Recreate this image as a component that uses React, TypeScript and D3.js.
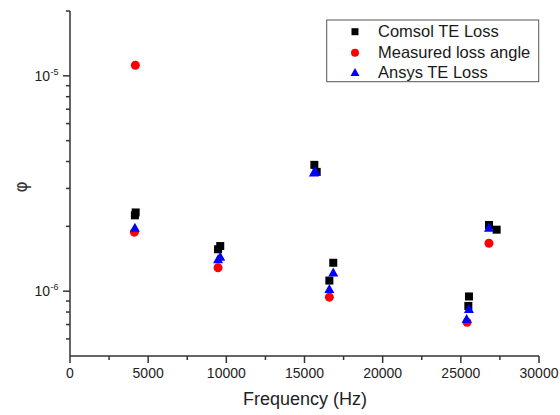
import React from "react";
import * as d3 from "d3";

const comsolF = [4150, 4200, 9470, 9610, 15630, 15780, 16590, 16840, 25480, 25520, 26800, 27290];
const comsolV = [2.25e-6, 2.32e-6, 1.565e-6, 1.62e-6, 3.86e-6, 3.58e-6, 1.12e-6, 1.355e-6, 8.54e-7, 9.45e-7, 2.03e-6, 1.93e-6];
const measuredF = [4180, 4120, 9470, 16590, 25400, 26800];
const measuredV = [1.12e-5, 1.88e-6, 1.285e-6, 9.38e-7, 7.17e-7, 1.67e-6];
const ansysF = [4150, 9470, 9610, 15600, 15700, 16590, 16840, 25370, 25520, 26800];
const ansysV = [1.96e-6, 1.40e-6, 1.44e-6, 3.54e-6, 3.57e-6, 1.02e-6, 1.217e-6, 7.4e-7, 8.24e-7, 1.96e-6];

const xTicks = [0, 5000, 10000, 15000, 20000, 25000, 30000];
const xMinor = [2500, 7500, 12500, 17500, 22500, 27500];
const yMajor = [1e-6, 1e-5];
const yMajorExp = ["-6", "-5"];
const yMinor = [6e-7, 7e-7, 8e-7, 9e-7, 2e-6, 3e-6, 4e-6, 5e-6, 6e-6, 7e-6, 8e-6, 9e-6, 2e-5];
const legendLabels = ["Comsol TE Loss", "Measured loss angle", "Ansys TE Loss"];

const W = 560, H = 415;
const FONT = "'Liberation Sans', Arial, sans-serif";

export default function App() {
  const x = d3.scaleLinear().domain([0, 30000]).range([70, 539]);
  const y = d3.scaleLog().domain([5e-7, 2e-5]).range([356, 11]);
  const axisColor = "#333";
  const sq = 8;
  const tri = (cx: number, cy: number, s = 10) => {
    const h = s * 0.9;
    return `M${cx},${cy - h * 0.6}L${cx + s / 2},${cy + h * 0.4}L${cx - s / 2},${cy + h * 0.4}Z`;
  };
  const lx = 355;
  const rows = [31.7, 52.7, 72.3];
  return (
    <svg width={W} height={H} style={{ position: "absolute", left: 0, top: 0, background: "#fff" }} fontFamily={FONT}>
      <rect x={0} y={0} width={W} height={H} fill="#fff" />
      <line x1={70} y1={11} x2={70} y2={356} stroke={axisColor} strokeWidth={1.5} />
      <line x1={70} y1={356} x2={539} y2={356} stroke={axisColor} strokeWidth={1.5} />
      {xTicks.map((t) => (
        <g key={"xt" + t}>
          <line x1={x(t)} x2={x(t)} y1={356} y2={363} stroke={axisColor} strokeWidth={1.5} />
          <text x={x(t)} y={378} fontSize={14} textAnchor="middle" fill="#222">{t}</text>
        </g>
      ))}
      {xMinor.map((t) => (
        <line key={"xm" + t} x1={x(t)} x2={x(t)} y1={356} y2={360} stroke={axisColor} strokeWidth={1.5} />
      ))}
      {yMajor.map((t, i) => (
        <g key={"ym" + t}>
          <line x1={63} x2={70} y1={y(t)} y2={y(t)} stroke={axisColor} strokeWidth={1.5} />
          <text x={50} y={y(t) + 5} fontSize={14} textAnchor="end" fill="#222">10</text>
          <text x={50.5} y={y(t) - 1} fontSize={9} textAnchor="start" fill="#222">{yMajorExp[i]}</text>
        </g>
      ))}
      {yMinor.map((t) => (
        <line key={"yn" + t} x1={66} x2={70} y1={y(t)} y2={y(t)} stroke={axisColor} strokeWidth={1.5} />
      ))}
      <text x={305} y={405} fontSize={18} textAnchor="middle" fill="#222">Frequency (Hz)</text>
      <g transform="translate(21,187) rotate(-90)">
        <text x={0} y={6} fontSize={17} textAnchor="middle" fill="#333" fontFamily="'DejaVu Sans', sans-serif">φ</text>
      </g>
      {comsolF.map((f, i) => (
        <rect key={"c" + i} x={x(f) - sq / 2} y={y(comsolV[i]) - sq / 2} width={sq} height={sq} fill="#000" />
      ))}
      {measuredF.map((f, i) => (
        <circle key={"m" + i} cx={x(f)} cy={y(measuredV[i])} r={4.5} fill="#ff0000" />
      ))}
      {ansysF.map((f, i) => (
        <path key={"a" + i} d={tri(x(f), y(ansysV[i]))} fill="#0000ff" />
      ))}
      <rect x={326.7} y={20} width={212} height={61.7} fill="#fff" stroke="#555" strokeWidth={1} />
      <rect x={lx - 3.5} y={rows[0] - 3.5} width={7} height={7} fill="#000" />
      <circle cx={lx} cy={rows[1]} r={4} fill="#ff0000" />
      <path d={tri(lx, rows[2] + 0.5, 9)} fill="#0000ff" />
      {legendLabels.map((l, i) => (
        <text key={l} x={378} y={rows[i] + 5.5} fontSize={16.5} fill="#1a1a1a">{l}</text>
      ))}
    </svg>
  );
}
